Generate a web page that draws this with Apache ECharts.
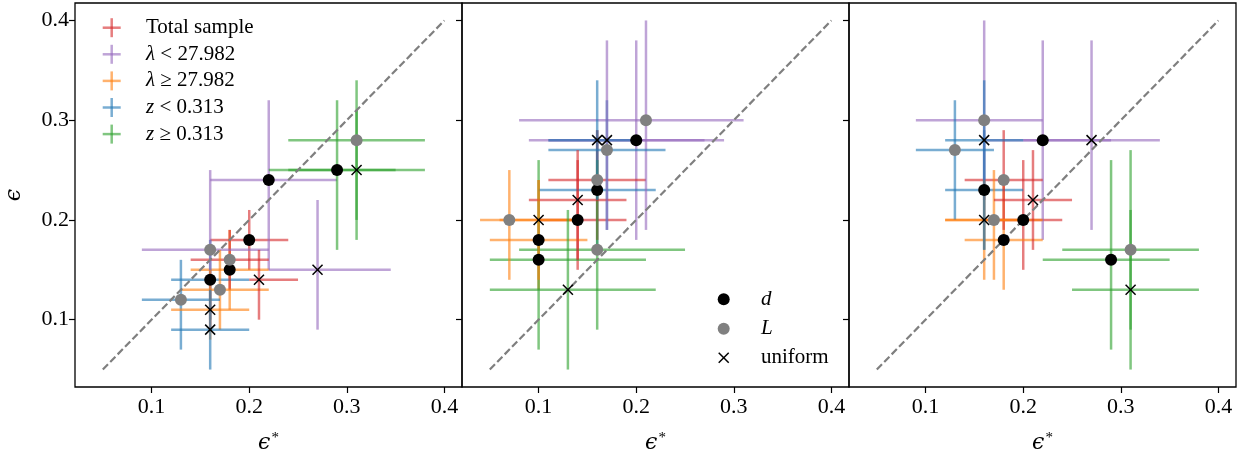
<!DOCTYPE html>
<html>
<head>
<meta charset="utf-8">
<script src="https://cdn.jsdelivr.net/npm/echarts@6/dist/echarts.min.js"></script>
<style>
  html, body { margin: 0; padding: 0; background: #ffffff; }
  #chart { width: 1245px; height: 454px; }
</style>
</head>
<body>
<div id="chart"></div>
<script>
// Subsamples, in legend order, and their colours
const SUBSAMPLES = ['Total sample', 'λ < 27.982', 'λ ≥ 27.982', 'z < 0.313', 'z ≥ 0.313'];
const SUBSAMPLE_RICH = ['Total sample', '{i|λ} < 27.982', '{i|λ} ≥ 27.982', '{i|z} < 0.313', '{i|z} ≥ 0.313'];
const COLORS = ['#d62728', '#9467bd', '#ff7f0e', '#1f77b4', '#2ca02c'];

// Estimators shown with black dots (d), grey dots (L) and crosses (uniform)
const ESTIMATORS = ['d', 'L', 'uniform'];

const TICKS = [0.1, 0.2, 0.3, 0.4];
const DIAGONAL = [[0.05, 0.05], [0.4, 0.4]];

// One row per subsample: [eps*, eps, eps* low, eps* high, eps low, eps high]
const panel1D = [
  [0.20, 0.18, 0.16, 0.24, 0.15, 0.21],
  [0.22, 0.24, 0.16, 0.29, 0.15, 0.32],
  [0.18, 0.15, 0.14, 0.22, 0.11, 0.19],
  [0.16, 0.14, 0.12, 0.20, 0.10, 0.18],
  [0.29, 0.25, 0.22, 0.35, 0.17, 0.32]
];
const panel1L = [
  [0.18, 0.16, 0.14, 0.22, 0.13, 0.19],
  [0.16, 0.17, 0.09, 0.22, 0.09, 0.25],
  [0.17, 0.13, 0.13, 0.22, 0.09, 0.17],
  [0.13, 0.12, 0.09, 0.17, 0.07, 0.16],
  [0.31, 0.28, 0.24, 0.38, 0.18, 0.34]
];
const panel1U = [
  [0.21, 0.14, 0.20, 0.25, 0.10, 0.17],
  [0.27, 0.15, 0.22, 0.345, 0.09, 0.22],
  [0.16, 0.11, 0.12, 0.20, 0.08, 0.15],
  [0.16, 0.09, 0.12, 0.20, 0.05, 0.13],
  [0.31, 0.25, 0.24, 0.38, 0.20, 0.31]
];

const panel2D = [
  [0.14, 0.20, 0.10, 0.19, 0.15, 0.26],
  [0.20, 0.28, 0.09, 0.29, 0.18, 0.38],
  [0.10, 0.18, 0.05, 0.15, 0.13, 0.24],
  [0.16, 0.23, 0.10, 0.22, 0.17, 0.29],
  [0.10, 0.16, 0.05, 0.21, 0.07, 0.26]
];
const panel2L = [
  [0.16, 0.24, 0.11, 0.21, 0.18, 0.29],
  [0.21, 0.30, 0.08, 0.31, 0.19, 0.40],
  [0.07, 0.20, 0.04, 0.14, 0.14, 0.25],
  [0.17, 0.27, 0.11, 0.23, 0.19, 0.32],
  [0.16, 0.17, 0.08, 0.25, 0.09, 0.26]
];
const panel2U = [
  [0.14, 0.22, 0.09, 0.19, 0.16, 0.27],
  [0.17, 0.28, 0.11, 0.27, 0.19, 0.38],
  [0.10, 0.20, 0.06, 0.14, 0.14, 0.24],
  [0.16, 0.28, 0.11, 0.20, 0.22, 0.34],
  [0.13, 0.13, 0.05, 0.22, 0.05, 0.21]
];

const panel3D = [
  [0.20, 0.20, 0.16, 0.24, 0.15, 0.26],
  [0.22, 0.28, 0.16, 0.29, 0.18, 0.38],
  [0.18, 0.18, 0.14, 0.22, 0.13, 0.24],
  [0.16, 0.23, 0.12, 0.20, 0.17, 0.29],
  [0.29, 0.16, 0.22, 0.35, 0.07, 0.26]
];
const panel3L = [
  [0.18, 0.24, 0.14, 0.22, 0.19, 0.29],
  [0.16, 0.30, 0.09, 0.22, 0.22, 0.40],
  [0.17, 0.20, 0.12, 0.22, 0.14, 0.25],
  [0.13, 0.27, 0.09, 0.17, 0.20, 0.32],
  [0.31, 0.17, 0.24, 0.38, 0.05, 0.27]
];
const panel3U = [
  [0.21, 0.22, 0.17, 0.25, 0.17, 0.27],
  [0.27, 0.28, 0.20, 0.34, 0.19, 0.38],
  [0.16, 0.20, 0.12, 0.20, 0.14, 0.24],
  [0.16, 0.28, 0.12, 0.20, 0.17, 0.34],
  [0.31, 0.13, 0.25, 0.38, 0.09, 0.21]
];

const PANELS = [
  [panel1D, panel1L, panel1U],
  [panel2D, panel2L, panel2U],
  [panel3D, panel3L, panel3U]
];

// ---- styling ----
const SERIF = '"Liberation Serif", "DejaVu Serif", serif';
const TICK_FONT = 22;
const LEGEND_FONT = 21;
const BAR_ALPHA = 0.6;
const GRID_LEFT = [75, 462, 849];
const GRID_TOP = 3;
const GRID_W = 387;
const GRID_H = 384;

function rgba(hex, a) {
  const n = parseInt(hex.slice(1), 16);
  return 'rgba(' + ((n >> 16) & 255) + ',' + ((n >> 8) & 255) + ',' + (n & 255) + ',' + a + ')';
}

// Horizontal and vertical error bars for every row of a block
function errorBarRender(params, api) {
  const x = api.value(0), y = api.value(1);
  const l = api.coord([api.value(2), y]);
  const r = api.coord([api.value(3), y]);
  const b = api.coord([x, api.value(4)]);
  const t = api.coord([x, api.value(5)]);
  const stroke = rgba(COLORS[params.dataIndex], BAR_ALPHA);
  return {
    type: 'group',
    children: [
      { type: 'line', shape: { x1: l[0], y1: l[1], x2: r[0], y2: r[1] }, style: { stroke: stroke, lineWidth: 2.5 } },
      { type: 'line', shape: { x1: b[0], y1: b[1], x2: t[0], y2: t[1] }, style: { stroke: stroke, lineWidth: 2.5 } }
    ]
  };
}

// 'x' marker
function crossRender(params, api) {
  const p = api.coord([api.value(0), api.value(1)]);
  const h = 5;
  const st = { stroke: '#000', lineWidth: 1.5 };
  return {
    type: 'group',
    children: [
      { type: 'line', shape: { x1: p[0] - h, y1: p[1] - h, x2: p[0] + h, y2: p[1] + h }, style: st },
      { type: 'line', shape: { x1: p[0] - h, y1: p[1] + h, x2: p[0] + h, y2: p[1] - h }, style: st }
    ]
  };
}

const grids = [], xAxes = [], yAxes = [], series = [];

PANELS.forEach(function (blocks, g) {
  grids.push({
    left: GRID_LEFT[g], top: GRID_TOP, width: GRID_W, height: GRID_H,
    outerBoundsMode: 'none', containLabel: false,
    show: true, borderColor: '#000', borderWidth: 1.3, backgroundColor: 'transparent'
  });
  xAxes.push({
    gridIndex: g, type: 'value', min: 0.0215, max: 0.418,
    axisLine: { show: false },
    splitLine: { show: false },
    axisTick: { show: true, customValues: TICKS, length: 6, lineStyle: { color: '#000', width: 1.2 } },
    axisLabel: {
      customValues: TICKS, margin: 9, color: '#000', fontFamily: SERIF, fontSize: TICK_FONT,
      formatter: function (v) { return v.toFixed(1); }
    },
    name: '{e|ϵ}{s|*}', nameLocation: 'middle', nameGap: 44,
    nameTextStyle: {
      rich: {
        e: { fontFamily: '"DejaVu Serif", serif', fontStyle: 'italic', fontSize: 22, color: '#000' },
        s: { fontFamily: SERIF, fontSize: 15, color: '#000', padding: [0, 0, 10, 1] }
      }
    }
  });
  yAxes.push({
    gridIndex: g, type: 'value', min: 0.0325, max: 0.4175,
    axisLine: { show: false },
    splitLine: { show: false },
    axisTick: { show: true, customValues: TICKS, length: 6, lineStyle: { color: '#000', width: 1.2 } },
    axisLabel: {
      show: g === 0, customValues: TICKS, margin: 6, color: '#000', fontFamily: SERIF, fontSize: TICK_FONT,
      formatter: function (v) { return v.toFixed(1); }
    },
    name: g === 0 ? 'ϵ' : '', nameLocation: 'middle', nameRotate: 90, nameGap: 50,
    nameTextStyle: { fontFamily: '"DejaVu Serif", serif', fontStyle: 'italic', fontSize: 22, color: '#000' }
  });

  // error bars for d, L and uniform
  blocks.forEach(function (rows, k) {
    series.push({
      type: 'custom', name: 'bars-' + ESTIMATORS[k], xAxisIndex: g, yAxisIndex: g,
      renderItem: errorBarRender, data: rows, z: 2, silent: true,
      encode: { x: [0, 2, 3], y: [1, 4, 5] }
    });
  });

  // identity line
  series.push({
    type: 'line', xAxisIndex: g, yAxisIndex: g, data: DIAGONAL, z: 3,
    symbol: 'none', silent: true,
    lineStyle: { color: '#7f7f7f', width: 2.2, type: [7.4, 3.2] }
  });

  // markers
  series.push({
    type: 'scatter', name: 'd', xAxisIndex: g, yAxisIndex: g, data: blocks[0], z: 4,
    symbol: 'circle', symbolSize: 12, itemStyle: { color: '#000000', opacity: 1 }, silent: true
  });
  series.push({
    type: 'scatter', name: 'L', xAxisIndex: g, yAxisIndex: g, data: blocks[1], z: 4,
    symbol: 'circle', symbolSize: 12, itemStyle: { color: '#808080', opacity: 1 }, silent: true
  });
  series.push({
    type: 'custom', name: 'uniform', xAxisIndex: g, yAxisIndex: g, data: blocks[2], z: 4,
    renderItem: crossRender, silent: true, encode: { x: 0, y: 1 }
  });
});

// ---- legends ----
const graphics = [];
const LEG1_X = 111.7, LEG1_Y0 = 27.7, LEG1_DY = 26.6, LEG1_TEXT_X = 146;
SUBSAMPLES.forEach(function (name, i) {
  const cy = LEG1_Y0 + i * LEG1_DY;
  const stroke = rgba(COLORS[i], BAR_ALPHA);
  graphics.push({ type: 'line', shape: { x1: LEG1_X - 9, y1: cy, x2: LEG1_X + 9, y2: cy }, style: { stroke: stroke, lineWidth: 2.5 }, z: 10 });
  graphics.push({ type: 'line', shape: { x1: LEG1_X, y1: cy - 9.5, x2: LEG1_X, y2: cy + 9.5 }, style: { stroke: stroke, lineWidth: 2.5 }, z: 10 });
  graphics.push({
    type: 'text', x: LEG1_TEXT_X, y: cy, z: 10,
    style: {
      text: SUBSAMPLE_RICH[i], fill: '#000', font: LEGEND_FONT + 'px ' + SERIF,
      verticalAlign: 'middle', align: 'left',
      rich: { i: { fontStyle: 'italic', fontFamily: SERIF, fontSize: LEGEND_FONT } }
    }
  });
});

const LEG2_X = 723.7, LEG2_Y = [299.3, 328.7, 357.7], LEG2_TEXT_X = 761;
graphics.push({ type: 'circle', shape: { cx: LEG2_X, cy: LEG2_Y[0], r: 6 }, style: { fill: '#000' }, z: 10 });
graphics.push({ type: 'circle', shape: { cx: LEG2_X, cy: LEG2_Y[1], r: 6 }, style: { fill: '#808080' }, z: 10 });
graphics.push({ type: 'line', shape: { x1: LEG2_X - 5, y1: LEG2_Y[2] - 5, x2: LEG2_X + 5, y2: LEG2_Y[2] + 5 }, style: { stroke: '#000', lineWidth: 1.5 }, z: 10 });
graphics.push({ type: 'line', shape: { x1: LEG2_X - 5, y1: LEG2_Y[2] + 5, x2: LEG2_X + 5, y2: LEG2_Y[2] - 5 }, style: { stroke: '#000', lineWidth: 1.5 }, z: 10 });
ESTIMATORS.forEach(function (name, i) {
  graphics.push({
    type: 'text', x: LEG2_TEXT_X, y: LEG2_Y[i], z: 10,
    style: {
      text: name, fill: '#000', verticalAlign: 'middle', align: 'left',
      font: (i < 2 ? 'italic ' : '') + LEGEND_FONT + 'px ' + SERIF
    }
  });
});

const chart = echarts.init(document.getElementById('chart'), null, { renderer: 'canvas' });
chart.setOption({
  animation: false,
  backgroundColor: '#ffffff',
  grid: grids,
  xAxis: xAxes,
  yAxis: yAxes,
  series: series,
  graphic: graphics
});
</script>
</body>
</html>
